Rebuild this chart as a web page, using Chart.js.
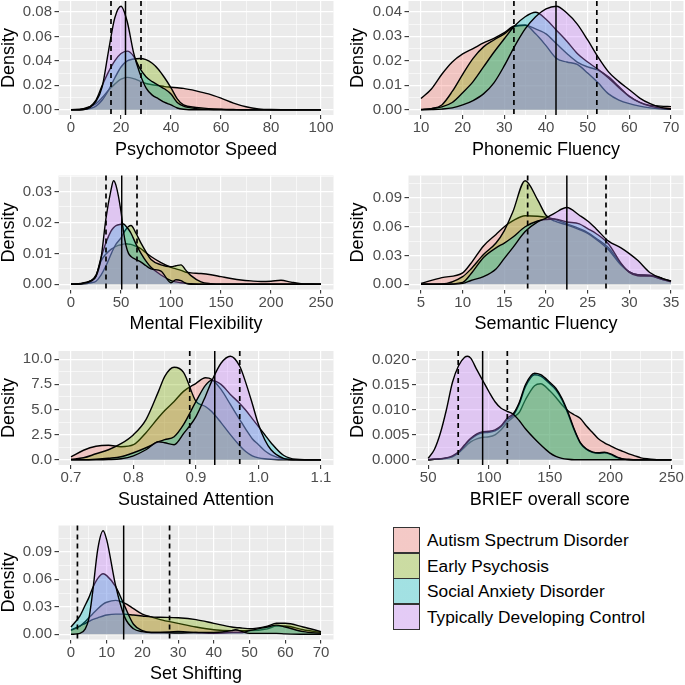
<!DOCTYPE html>
<html>
<head>
<meta charset="utf-8">
<script src="https://cdn.jsdelivr.net/npm/chart.js@4.4.1/dist/chart.umd.min.js"></script>
<style>
  body { margin: 0; background: #fff; }
  #wrap { position: relative; width: 685px; height: 685px; overflow: hidden; font-family: "Liberation Sans", Arial, sans-serif; }
  #wrap canvas { position: absolute; }
  .key { position: absolute; left: 393px; width: 27px; height: 26px; box-sizing: border-box; border: 1.5px solid #333; }
  .label { position: absolute; left: 427px; font-size: 17.3px; line-height: 26px; color: #000; white-space: nowrap; }
</style>
</head>
<body>
<div id="wrap"></div>
<script>
const groups = ['Autism Spectrum Disorder', 'Early Psychosis', 'Social Anxiety Disorder', 'Typically Developing Control'];
const groupColors = ['#F8766D', '#7CAE00', '#00BFC4', '#C77CFF'];

// Psychomotor Speed
const speedX = [0, 5, 10, 12.5, 15, 17.5, 20, 22.5, 25, 27.5, 30, 32.5, 35, 37.5, 40, 42.5, 45, 50, 55, 60, 65, 70, 75, 80, 90, 100];
const speedASD = [0.0002, 0.001, 0.005, 0.01, 0.016, 0.021, 0.025, 0.0265, 0.0255, 0.0235, 0.0215, 0.0205, 0.0198, 0.019, 0.0185, 0.018, 0.0175, 0.0155, 0.013, 0.0095, 0.0055, 0.0025, 0.0008, 0.0002, 0, 0];
const speedEP = [0, 0.0003, 0.003, 0.008, 0.016, 0.026, 0.035, 0.04, 0.0415, 0.042, 0.041, 0.038, 0.033, 0.026, 0.018, 0.009, 0.004, 0.002, 0.001, 0.0005, 0.0002, 0, 0, 0, 0, 0];
const speedSAD = [0, 0.0005, 0.008, 0.02, 0.031, 0.04, 0.046, 0.048, 0.044, 0.034, 0.027, 0.023, 0.02, 0.017, 0.013, 0.006, 0.003, 0.001, 0.0005, 0.0002, 0, 0, 0, 0, 0, 0];
const speedTDC = [0, 0.0003, 0.007, 0.019, 0.048, 0.075, 0.0847, 0.072, 0.047, 0.03, 0.018, 0.012, 0.009, 0.006, 0.004, 0.0015, 0.0005, 0, 0, 0, 0, 0, 0, 0, 0, 0];
const speedTicksX = ['0', '20', '40', '60', '80', '100'];
const speedTicksY = ['0.00', '0.02', '0.04', '0.06', '0.08'];
const speedLines = [16, 21.8, 28];

// Phonemic Fluency
const phonX = [10, 12.5, 15, 17.5, 20, 22.5, 25, 27.5, 30, 32.5, 35, 37.5, 40, 42.5, 45, 47.5, 50, 52.5, 55, 57.5, 60, 62.5, 65, 67.5, 70];
const phonASD = [0.0046, 0.0085, 0.0145, 0.0195, 0.0228, 0.025, 0.0273, 0.0292, 0.0315, 0.0343, 0.0345, 0.033, 0.031, 0.027, 0.023, 0.0195, 0.0175, 0.0162, 0.0135, 0.0095, 0.0055, 0.003, 0.0018, 0.0015, 0.0013];
const phonEP = [0.0002, 0.0005, 0.002, 0.0075, 0.0145, 0.021, 0.0257, 0.0285, 0.031, 0.034, 0.0345, 0.031, 0.0262, 0.021, 0.0195, 0.0185, 0.015, 0.011, 0.0065, 0.004, 0.0025, 0.0015, 0.0008, 0.0004, 0.0002];
const phonSAD = [0, 0.0005, 0.0012, 0.003, 0.007, 0.0115, 0.0175, 0.0235, 0.029, 0.0343, 0.038, 0.0398, 0.037, 0.0325, 0.028, 0.023, 0.0195, 0.0165, 0.013, 0.009, 0.0055, 0.003, 0.0015, 0.0007, 0.0003];
const phonTDC = [0, 0.0001, 0.0003, 0.0008, 0.002, 0.0038, 0.0065, 0.011, 0.018, 0.026, 0.033, 0.038, 0.0412, 0.0423, 0.0395, 0.035, 0.0285, 0.0215, 0.0155, 0.0115, 0.0082, 0.0048, 0.0025, 0.001, 0.0004];
const phonTicksX = ['10', '20', '30', '40', '50', '60', '70'];
const phonTicksY = ['0.00', '0.01', '0.02', '0.03', '0.04'];
const phonLines = [32.3, 42.4, 52.2];

// Mental Flexibility
const flexX = [0, 10, 20, 25, 30, 35, 40, 42.5, 45, 50, 52.5, 55, 57.5, 60, 65, 70, 75, 80, 90, 100, 105, 110, 115, 120, 130, 140, 150, 160, 170, 180, 190, 200, 210, 220, 230, 240, 250];
const flexASD = [0.0001, 0.0002, 0.0012, 0.003, 0.0075, 0.0098, 0.0113, 0.0118, 0.0123, 0.0128, 0.013, 0.0131, 0.013, 0.0129, 0.0123, 0.0115, 0.0102, 0.009, 0.007, 0.0055, 0.005, 0.0045, 0.0039, 0.0037, 0.0035, 0.0031, 0.0025, 0.0019, 0.0014, 0.0011, 0.0009, 0.001, 0.0013, 0.0007, 0.0002, 0.0001, 0];
const flexEP = [0, 0.0001, 0.0005, 0.001, 0.003, 0.006, 0.0097, 0.0115, 0.013, 0.015, 0.0165, 0.0178, 0.0187, 0.019, 0.0165, 0.0133, 0.0105, 0.008, 0.0063, 0.0057, 0.006, 0.0063, 0.0045, 0.0028, 0.0008, 0.0002, 0, 0, 0, 0, 0, 0, 0, 0, 0, 0, 0];
const flexSAD = [0, 0.0003, 0.0012, 0.0027, 0.0085, 0.0135, 0.0172, 0.0183, 0.019, 0.0194, 0.0195, 0.0188, 0.0178, 0.0165, 0.013, 0.01, 0.0075, 0.0055, 0.003, 0.0012, 0.0008, 0.0005, 0.0003, 0.0002, 0, 0, 0, 0, 0, 0, 0, 0, 0, 0, 0, 0, 0];
const flexTDC = [0, 0.0002, 0.001, 0.0025, 0.0084, 0.0214, 0.0305, 0.0335, 0.032, 0.0235, 0.017, 0.0125, 0.01, 0.009, 0.008, 0.0072, 0.006, 0.005, 0.0043, 0.0005, 0.0015, 0.0012, 0.0003, 0, 0, 0, 0, 0, 0, 0, 0, 0, 0, 0, 0, 0, 0];
const flexTicksX = ['0', '50', '100', '150', '200', '250'];
const flexTicksY = ['0.00', '0.01', '0.02', '0.03'];
const flexLines = [35, 50.7, 66];

// Semantic Fluency
const semX = [5, 7.5, 10, 11, 12.5, 14, 15, 16, 17.5, 19, 20, 21, 22.5, 24, 25, 26, 27.5, 29, 30, 31, 32.5, 34, 35];
const semASD = [0.001, 0.007, 0.012, 0.022, 0.04, 0.052, 0.06, 0.066, 0.0715, 0.071, 0.07, 0.068, 0.063, 0.058, 0.054, 0.048, 0.038, 0.021, 0.013, 0.01, 0.0095, 0.006, 0.003];
const semEP = [0, 0.0003, 0.008, 0.016, 0.031, 0.043, 0.056, 0.075, 0.108, 0.088, 0.072, 0.066, 0.062, 0.057, 0.053, 0.047, 0.036, 0.02, 0.013, 0.01, 0.009, 0.005, 0.003];
const semSAD = [0, 0, 0.002, 0.011, 0.028, 0.038, 0.043, 0.049, 0.06, 0.066, 0.0675, 0.068, 0.065, 0.063, 0.058, 0.053, 0.042, 0.022, 0.0125, 0.009, 0.0085, 0.005, 0.0025];
const semTDC = [0, 0, 0.001, 0.004, 0.008, 0.016, 0.027, 0.038, 0.055, 0.065, 0.069, 0.074, 0.08, 0.072, 0.066, 0.058, 0.045, 0.038, 0.032, 0.025, 0.012, 0.006, 0.0035];
const semTicksX = ['5', '10', '15', '20', '25', '30', '35'];
const semTicksY = ['0.00', '0.03', '0.06', '0.09'];
const semLines = [17.8, 22.5, 27.2];

// Sustained Attention
const attnX = [0.7, 0.72, 0.74, 0.76, 0.78, 0.8, 0.82, 0.84, 0.85, 0.865, 0.88, 0.9, 0.915, 0.925, 0.94, 0.955, 0.97, 0.98, 0.99, 1.0, 1.01, 1.02, 1.04, 1.06, 1.1];
const attnASD = [0.3, 0.95, 1.35, 1.45, 1.3, 1.5, 2.7, 4.2, 4.9, 5.8, 6.8, 7.6, 8.15, 8.0, 7.0, 5.5, 4.0, 3.0, 2.1, 1.5, 0.9, 0.5, 0.1, 0.02, 0];
const attnEP = [0.05, 0.2, 0.6, 1.0, 1.6, 2.5, 4.0, 6.8, 8.3, 9.2, 8.7, 5.8, 5.3, 4.8, 3.7, 2.5, 1.4, 0.8, 0.4, 0.2, 0.1, 0.05, 0, 0, 0];
const attnSAD = [0, 0, 0.05, 0.15, 0.3, 0.7, 1.2, 1.8, 2.0, 2.3, 3.5, 5.8, 7.4, 7.9, 7.5, 6.5, 5.6, 4.9, 4.1, 3.3, 2.5, 1.7, 0.45, 0.06, 0];
const attnTDC = [0, 0, 0, 0.02, 0.1, 0.4, 1.0, 1.8, 1.7, 1.5, 2.6, 4.3, 6.3, 7.8, 9.6, 10.3, 9.3, 7.6, 5.6, 3.5, 2.0, 1.0, 0.15, 0, 0];
const attnTicksX = ['0.7', '0.8', '0.9', '1.0', '1.1'];
const attnTicksY = ['0.0', '2.5', '5.0', '7.5', '10.0'];
const attnLines = [0.89, 0.93, 0.97];

// BRIEF overall score
const briefX = [50, 55, 60, 65, 70, 75, 80, 82.5, 85, 90, 95, 100, 105, 110, 115, 120, 125, 130, 137.5, 142.5, 150, 155, 160, 165, 170, 175, 180, 185, 190, 195, 200, 205, 210, 215, 220, 225, 230, 240, 250];
const briefASD = [0, 0.0001, 0.0002, 0.0004, 0.0006, 0.0014, 0.0025, 0.0031, 0.0036, 0.0042, 0.0045, 0.0046, 0.005, 0.006, 0.0075, 0.0085, 0.0095, 0.012, 0.0148, 0.0152, 0.0138, 0.0125, 0.011, 0.0098, 0.009, 0.0083, 0.0068, 0.0055, 0.0042, 0.0034, 0.0028, 0.0022, 0.0017, 0.0012, 0.0008, 0.0004, 0.0002, 0, 0];
const briefEP = [0, 0.0001, 0.0002, 0.0003, 0.0007, 0.0014, 0.0028, 0.0035, 0.0041, 0.005, 0.0054, 0.0055, 0.0058, 0.0066, 0.008, 0.0089, 0.0112, 0.0146, 0.017, 0.0167, 0.0152, 0.014, 0.012, 0.0092, 0.006, 0.0034, 0.0021, 0.0015, 0.0013, 0.0014, 0.0011, 0.0005, 0.0002, 0, 0, 0, 0, 0, 0];
const briefSAD = [0, 0.0001, 0.0002, 0.0004, 0.0008, 0.0016, 0.003, 0.0037, 0.0043, 0.0052, 0.0056, 0.0057, 0.006, 0.0068, 0.0083, 0.0092, 0.0115, 0.015, 0.0173, 0.017, 0.0155, 0.0143, 0.0123, 0.0095, 0.0062, 0.0035, 0.0022, 0.0016, 0.0014, 0.0015, 0.0012, 0.0006, 0.0002, 0.0001, 0, 0, 0, 0, 0];
const briefTDC = [0.0003, 0.002, 0.0053, 0.01, 0.0155, 0.0188, 0.0205, 0.0207, 0.0203, 0.018, 0.0158, 0.0136, 0.0116, 0.0103, 0.0097, 0.0091, 0.0078, 0.0062, 0.0042, 0.003, 0.0014, 0.0007, 0.0003, 0.0001, 0, 0, 0, 0, 0, 0, 0, 0, 0, 0, 0, 0, 0, 0, 0];
const briefTicksX = ['50', '100', '150', '200', '250'];
const briefTicksY = ['0.000', '0.005', '0.010', '0.015', '0.020'];
const briefLines = [74.7, 94.8, 115.1];

// Set Shifting
const shiftX = [0, 2.5, 4, 5, 6, 7.5, 9, 10, 12.5, 15, 17.5, 20, 22.5, 25, 30, 35, 40, 45, 46, 48, 50, 55, 57.5, 60, 65, 70];
const shiftASD = [0.004, 0.009, 0.014, 0.018, 0.022, 0.028, 0.033, 0.035, 0.037, 0.034, 0.028, 0.022, 0.019, 0.016, 0.012, 0.008, 0.005, 0.004, 0.004, 0.004, 0.004, 0.006, 0.009, 0.009, 0.005, 0.002];
const shiftEP = [0.005, 0.009, 0.012, 0.014, 0.016, 0.018, 0.02, 0.021, 0.022, 0.022, 0.021, 0.02, 0.019, 0.0186, 0.018, 0.016, 0.012, 0.008, 0.0075, 0.0068, 0.006, 0.009, 0.012, 0.012, 0.008, 0.003];
const shiftSAD = [0.008, 0.02, 0.032, 0.04, 0.05, 0.061, 0.066, 0.064, 0.052, 0.031, 0.011, 0.004, 0.002, 0.002, 0.003, 0.002, 0.001, 0.002, 0.002, 0.002, 0.004, 0.008, 0.01, 0.008, 0.003, 0.001];
const shiftTDC = [0, 0.001, 0.006, 0.017, 0.044, 0.093, 0.113, 0.103, 0.053, 0.019, 0.006, 0.003, 0.002, 0.002, 0.0015, 0.002, 0.002, 0.004, 0.005, 0.003, 0.001, 0.001, 0.001, 0.0005, 0, 0];
const shiftTicksX = ['0', '10', '20', '30', '40', '50', '60', '70'];
const shiftTicksY = ['0.00', '0.03', '0.06', '0.09'];
const shiftLines = [1.8, 14.75, 27.6];

const panels = [
  { title: 'Psychomotor Speed', xs: speedX, series: [speedASD, speedEP, speedSAD, speedTDC], xTicks: speedTicksX, yTicks: speedTicksY, lines: speedLines, col: 0, row: 0 },
  { title: 'Phonemic Fluency', xs: phonX, series: [phonASD, phonEP, phonSAD, phonTDC], xTicks: phonTicksX, yTicks: phonTicksY, lines: phonLines, col: 1, row: 0 },
  { title: 'Mental Flexibility', xs: flexX, series: [flexASD, flexEP, flexSAD, flexTDC], xTicks: flexTicksX, yTicks: flexTicksY, lines: flexLines, col: 0, row: 1 },
  { title: 'Semantic Fluency', xs: semX, series: [semASD, semEP, semSAD, semTDC], xTicks: semTicksX, yTicks: semTicksY, lines: semLines, col: 1, row: 1 },
  { title: 'Sustained Attention', xs: attnX, series: [attnASD, attnEP, attnSAD, attnTDC], xTicks: attnTicksX, yTicks: attnTicksY, lines: attnLines, col: 0, row: 2 },
  { title: 'BRIEF overall score', xs: briefX, series: [briefASD, briefEP, briefSAD, briefTDC], xTicks: briefTicksX, yTicks: briefTicksY, lines: briefLines, col: 1, row: 2, left: 416 },
  { title: 'Set Shifting', xs: shiftX, series: [shiftASD, shiftEP, shiftSAD, shiftTDC], xTicks: shiftTicksX, yTicks: shiftTicksY, lines: shiftLines, col: 0, row: 3 },
];

// page layout (plot areas), px
const colLeft = [58.5, 408.5];
const colRight = [333.5, 683.5];
const rowTop = [1, 175.5, 351, 525.5];
const PLOT_H = 114;
const CANVAS_H = 162;
const yTitleCenter = [9, 18];
const FILL_ALPHA = 0.33;

Chart.defaults.font.family = '"Liberation Sans", Arial, sans-serif';

function withAlpha(hex, a) {
  const n = parseInt(hex.slice(1), 16);
  return `rgba(${n >> 16}, ${(n >> 8) & 255}, ${n & 255}, ${a})`;
}

// major ticks from the labels, minor grid halfway between them
function buildTicks(labels, min, max) {
  const vals = labels.map(Number);
  const step = vals[1] - vals[0];
  const ticks = vals.map((v, i) => ({ value: v, major: true, text: labels[i] }));
  const minors = [vals[0] - step / 2, vals[vals.length - 1] + step / 2];
  for (let i = 0; i < vals.length - 1; i++) minors.push((vals[i] + vals[i + 1]) / 2);
  minors.filter(v => v >= min && v <= max).forEach(v => ticks.push({ value: v, major: false, text: '' }));
  return ticks.sort((a, b) => a.value - b.value);
}

// grey panel background
const panelBg = {
  id: 'panelBg',
  beforeDraw(chart) {
    const { ctx, chartArea: a } = chart;
    ctx.save();
    ctx.fillStyle = '#EBEBEB';
    ctx.fillRect(a.left, a.top, a.width, a.height);
    ctx.restore();
  }
};

// dashed / solid reference lines
const refLines = {
  id: 'refLines',
  afterDatasetsDraw(chart, args, opts) {
    const { ctx, chartArea: a, scales: { x } } = chart;
    opts.values.forEach((v, i) => {
      const px = x.getPixelForValue(v);
      ctx.save();
      ctx.strokeStyle = '#000';
      ctx.lineWidth = i === 1 ? 1.5 : 1.7;
      ctx.setLineDash(i === 1 ? [] : [5, 4]);
      ctx.beginPath();
      ctx.moveTo(px, a.top);
      ctx.lineTo(px, a.bottom);
      ctx.stroke();
      ctx.restore();
    });
  }
};

const wrap = document.getElementById('wrap');

panels.forEach((p) => {
  const left = p.left || colLeft[p.col];
  const right = colRight[p.col];
  const top = rowTop[p.row];
  const bottom = top + PLOT_H;
  const cLeft = p.col * 340;
  const cWidth = p.col ? 345 : 340;
  const cTop = Math.floor(top) - 1;

  const canvas = document.createElement('canvas');
  canvas.width = cWidth;
  canvas.height = CANVAS_H;
  canvas.style.left = cLeft + 'px';
  canvas.style.top = cTop + 'px';
  wrap.appendChild(canvas);

  // ggplot style 5% expansion around the data
  const yMax = Math.max(...p.series.flat());
  const xMin = p.xs[0];
  const xMax = p.xs[p.xs.length - 1];
  const xPad = (xMax - xMin) * 0.05;
  const xLim = [xMin - xPad, xMax + xPad];
  const yLim = [-yMax * 0.05, yMax * 1.05];

  const yAxisWidth = left - cLeft;
  const xAxisHeight = cTop + CANVAS_H - bottom;
  const xTitlePad = xAxisHeight - 35 - 18 * 1.2 / 2;
  const yTitlePad = yTitleCenter[p.col] - 18 * 0.9 / 2;

  const gridOpts = {
    color: '#FFFFFF',
    lineWidth: (ctx) => (ctx.tick && ctx.tick.major ? 1.2 : 0.6),
    tickColor: (ctx) => (ctx.tick && ctx.tick.major ? '#333333' : 'rgba(0,0,0,0)'),
    tickWidth: 1.1,
    tickLength: 4,
    drawTicks: true,
  };

  new Chart(canvas, {
    type: 'line',
    data: {
      datasets: p.series.map((ys, gi) => ({
        label: groups[gi],
        data: p.xs.map((x, i) => ({ x, y: ys[i] })),
        borderColor: '#000000',
        borderWidth: 1.4,
        backgroundColor: withAlpha(groupColors[gi], FILL_ALPHA),
        fill: 'origin',
        pointRadius: 0,
        cubicInterpolationMode: 'monotone',
        order: groups.length - gi,
      })),
    },
    options: {
      responsive: false,
      animation: false,
      devicePixelRatio: 1,
      events: [],
      layout: { autoPadding: false, padding: { left: 0, top: top - cTop, right: cLeft + cWidth - right, bottom: 0 } },
      plugins: {
        legend: { display: false },
        tooltip: { enabled: false },
        refLines: { values: p.lines },
      },
      scales: {
        x: {
          type: 'linear',
          min: xLim[0],
          max: xLim[1],
          border: { display: false },
          grid: gridOpts,
          afterBuildTicks: (scale) => { scale.ticks = buildTicks(p.xTicks, xLim[0], xLim[1]); },
          afterFit: (scale) => { scale.height = xAxisHeight; scale.paddingLeft = 0; scale.paddingRight = 0; },
          ticks: {
            autoSkip: false, maxRotation: 0, minRotation: 0, padding: 0,
            color: '#4D4D4D', font: { size: 15 },
            callback: (v, i, ticks) => ticks[i].text,
          },
          title: { display: true, text: p.title, color: '#000000', font: { size: 18, lineHeight: 1.2 }, padding: { top: 0, bottom: xTitlePad } },
        },
        y: {
          type: 'linear',
          min: yLim[0],
          max: yLim[1],
          border: { display: false },
          grid: gridOpts,
          afterBuildTicks: (scale) => { scale.ticks = buildTicks(p.yTicks, yLim[0], yLim[1]); },
          afterFit: (scale) => { scale.width = yAxisWidth; scale.paddingTop = 0; scale.paddingBottom = 0; },
          ticks: {
            autoSkip: false, padding: 2.5,
            color: '#4D4D4D', font: { size: 15 },
            callback: (v, i, ticks) => ticks[i].text,
          },
          title: { display: true, text: 'Density', color: '#000000', font: { size: 18, lineHeight: 0.9 }, padding: { top: yTitlePad, bottom: 0 } },
        },
      },
    },
    plugins: [panelBg, refLines],
  });
});

// legend
const legendTop = 526.7;
const legendStep = 25.8;
groups.forEach((name, i) => {
  const key = document.createElement('div');
  key.className = 'key';
  key.style.top = (legendTop + i * legendStep) + 'px';
  const c = withAlpha(groupColors[i], FILL_ALPHA);
  key.style.background = `linear-gradient(${c}, ${c}), #F2F2F2`;
  wrap.appendChild(key);

  const label = document.createElement('div');
  label.className = 'label';
  label.style.top = (legendTop + i * legendStep) + 'px';
  label.textContent = name;
  wrap.appendChild(label);
});
</script>
</body>
</html>
